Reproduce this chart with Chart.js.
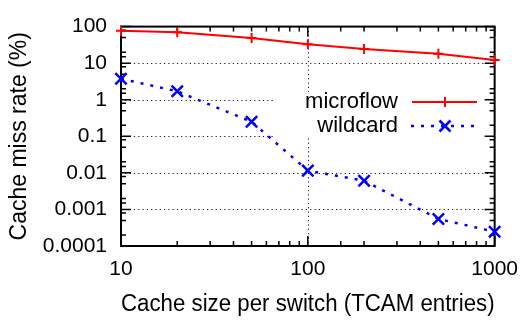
<!DOCTYPE html>
<html>
<head>
<meta charset="utf-8">
<script src="https://cdn.jsdelivr.net/npm/chart.js@4/dist/chart.umd.min.js"></script>
<style>
  body { margin: 0; background: #fff; }
  #wrap { width: 529px; height: 320px; }
</style>
</head>
<body>
<div id="wrap"><canvas id="missRate"></canvas></div>
<script>
const cacheSizes = [10, 20, 50, 100, 200, 500, 1000];
const microflowMiss = [77, 70, 49, 33, 24.4, 18, 12.2];
const wildcardMiss = [3.75, 1.7, 0.25, 0.0115, 0.0061, 0.00055, 0.000245];
const seriesNames = ["microflow", "wildcard"];
const xTickLabels = ["10", "100", "1000"];
const yTickLabels = ["0.0001", "0.001", "0.01", "0.1", "1", "10", "100"];

const FONT = '"Liberation Sans", Arial, sans-serif';
Chart.defaults.font.family = FONT;
Chart.defaults.color = "#000";

function pickLabel(list, v) {
  const hit = list.find(function (l) {
    return Math.abs(Math.log10(parseFloat(l)) - Math.log10(v)) < 1e-6;
  });
  return hit || "";
}

// frame, inward ticks, dotted grid and the opaque key box, gnuplot style
const gnuplotFrame = {
  id: "gnuplotFrame",
  beforeDatasetsDraw(chart) {
    const { ctx, chartArea: a, scales } = chart;
    const xs = scales.x, ys = scales.y;
    ctx.save();

    // grid at decades
    ctx.strokeStyle = "rgba(0,0,0,0.9)";
    ctx.lineWidth = 1;
    ctx.setLineDash([1.2, 3.1]);
    ys.ticks.forEach(function (t) {
      if (!pickLabel(yTickLabels, t.value)) return;
      const py = Math.round(ys.getPixelForValue(t.value)) + 0.5;
      if (py < a.top + 2 || py > a.bottom - 2) return;
      ctx.beginPath(); ctx.moveTo(a.left, py); ctx.lineTo(a.right, py); ctx.stroke();
    });
    xs.ticks.forEach(function (t) {
      if (!pickLabel(xTickLabels, t.value)) return;
      const px = Math.round(xs.getPixelForValue(t.value)) + 0.5;
      if (px < a.left + 2 || px > a.right - 2) return;
      ctx.beginPath(); ctx.moveTo(px, a.top); ctx.lineTo(px, a.bottom); ctx.stroke();
    });
    ctx.setLineDash([]);

    // key box
    ctx.fillStyle = "#fff";
    ctx.fillRect(274, 92, a.right - 274 - 1, 45);

    // ticks
    ctx.strokeStyle = "#000";
    ctx.lineWidth = 1.5;
    xs.ticks.forEach(function (t) {
      const len = pickLabel(xTickLabels, t.value) ? 10 : 5;
      const px = xs.getPixelForValue(t.value);
      ctx.beginPath();
      ctx.moveTo(px, a.bottom); ctx.lineTo(px, a.bottom - len);
      ctx.moveTo(px, a.top); ctx.lineTo(px, a.top + len);
      ctx.stroke();
    });
    ys.ticks.forEach(function (t) {
      const lab = pickLabel(yTickLabels, t.value);
      const m = Math.round(t.value / Math.pow(10, Math.floor(Math.log10(t.value) + 1e-9)));
      if (!lab && [2, 5, 8].indexOf(m) < 0) return;
      const len = lab ? 10 : 5;
      const py = ys.getPixelForValue(t.value);
      ctx.beginPath();
      ctx.moveTo(a.left, py); ctx.lineTo(a.left + len, py);
      ctx.moveTo(a.right, py); ctx.lineTo(a.right - len, py);
      ctx.stroke();
    });

    // frame
    ctx.lineWidth = 2;
    ctx.strokeRect(a.left, a.top, a.right - a.left, a.bottom - a.top);

    // key
    ctx.font = "22px " + FONT;
    ctx.fillStyle = "#000";
    ctx.textAlign = "right";
    ctx.textBaseline = "middle";
    ctx.fillText(seriesNames[0], 398, 102);
    ctx.fillText(seriesNames[1], 398, 126);

    ctx.strokeStyle = "#ff0000";
    ctx.lineWidth = 2;
    ctx.beginPath();
    ctx.moveTo(412, 102); ctx.lineTo(477, 102);
    ctx.moveTo(445, 97); ctx.lineTo(445, 107);
    ctx.stroke();

    ctx.strokeStyle = "#0000ff";
    ctx.lineWidth = 2.5;
    ctx.setLineDash([3, 7]);
    ctx.beginPath(); ctx.moveTo(411, 126); ctx.lineTo(475, 126); ctx.stroke();
    ctx.setLineDash([]);
    ctx.beginPath();
    ctx.moveTo(439.5, 120.5); ctx.lineTo(450.5, 131.5);
    ctx.moveTo(450.5, 120.5); ctx.lineTo(439.5, 131.5);
    ctx.stroke();

    ctx.restore();
  },
};

const ctx = document.getElementById("missRate").getContext("2d");

new Chart(ctx, {
  type: "line",
  data: {
    datasets: [
      {
        label: seriesNames[0],
        data: cacheSizes.map(function (x, i) { return { x: x, y: microflowMiss[i] }; }),
        borderColor: "#ff0000",
        borderWidth: 2,
        pointStyle: "cross",
        pointRadius: 5,
        pointBorderWidth: 2,
        pointBorderColor: "#ff0000",
        clip: false,
      },
      {
        label: seriesNames[1],
        data: cacheSizes.map(function (x, i) { return { x: x, y: wildcardMiss[i] }; }),
        borderColor: "#0000ff",
        borderWidth: 2.5,
        borderDash: [3, 7],
        pointStyle: "crossRot",
        pointRadius: 8,
        pointBorderWidth: 2.5,
        pointBorderColor: "#0000ff",
        clip: false,
      },
    ],
  },
  options: {
    responsive: true,
    maintainAspectRatio: false,
    animation: false,
    layout: { padding: { top: 14, right: 29, left: 0, bottom: 0 } },
    plugins: {
      legend: { display: false },
      tooltip: { enabled: false },
    },
    scales: {
      x: {
        type: "logarithmic",
        min: 10,
        max: 1000,
        grid: { display: false, drawTicks: false },
        border: { display: false },
        ticks: {
          autoSkip: false,
          maxRotation: 0,
          padding: 11,
          font: { size: 21 },
          callback: function (v) { return pickLabel(xTickLabels, v); },
        },
        title: {
          display: true,
          text: "Cache size per switch (TCAM entries)",
          font: { size: 23 },
          padding: { top: 0, bottom: 2 },
        },
        afterFit: function (s) { s.height = 74; },
      },
      y: {
        type: "logarithmic",
        min: 0.0001,
        max: 100,
        grid: { display: false, drawTicks: false },
        border: { display: false },
        ticks: {
          autoSkip: false,
          padding: 14,
          font: { size: 21 },
          callback: function (v) { return pickLabel(yTickLabels, v); },
        },
        title: {
          display: true,
          text: "Cache miss rate (%)",
          font: { size: 23 },
          padding: { top: 6, bottom: 0 },
        },
        afterFit: function (s) { s.width = 121; },
      },
    },
  },
  plugins: [gnuplotFrame],
});
</script>
</body>
</html>
